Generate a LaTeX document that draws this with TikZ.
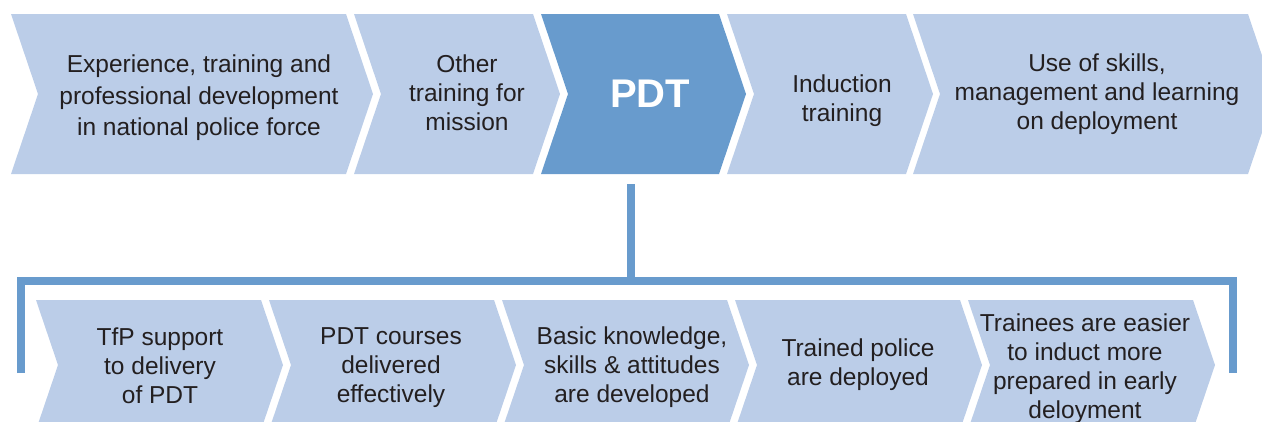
\documentclass[tikz,border=0pt]{standalone}
\usepackage{fontspec}
\setmainfont{Liberation Sans}
\definecolor{lightblue}{RGB}{187,205,232}
\definecolor{darkblue}{RGB}{104,155,205}
\definecolor{txt}{RGB}{35,31,32}
\begin{document}
\begin{tikzpicture}[x=1pt,y=-1pt,
  lbl/.style={text=txt, font=\fontsize{24.5}{29}\selectfont, align=center, inner sep=0pt},
  widelbl/.style={lbl, font=\fontsize{24.5}{31.6}\selectfont},
  pdtlbl/.style={text=white, font=\fontsize{40}{48}\selectfont\bfseries, inner sep=0pt},
  chevlight/.style={fill=lightblue},
  chevdark/.style={fill=darkblue},
  bracket/.style={draw=darkblue, line width=8pt, line join=miter}]
\useasboundingbox (0,0) rectangle (1262,421);
\clip (0,0) rectangle (1262,421);
% top row chevrons: top 14, mid 94, bottom 174, depth 27
\path[chevlight] (11,14) -- (346,14) -- (373,94) -- (346,174) -- (11,174) -- (38,94) -- cycle;
\path[chevlight] (354,14) -- (533,14) -- (560,94) -- (533,174) -- (354,174) -- (381,94) -- cycle;
\path[chevdark] (541,14) -- (719,14) -- (746,94) -- (719,174) -- (541,174) -- (568,94) -- cycle;
\path[chevlight] (727,14) -- (906,14) -- (933,94) -- (906,174) -- (727,174) -- (754,94) -- cycle;
\path[chevlight] (913,14) -- (1248,14) -- (1275,94) -- (1248,174) -- (913,174) -- (940,94) -- cycle;
% bottom row chevrons: top 300, mid 365, bottom 430, depth 22
\path[chevlight] (36,300) -- (261,300) -- (283,365) -- (261,430) -- (36,430) -- (58,365) -- cycle;
\path[chevlight] (269,300) -- (494,300) -- (516,365) -- (494,430) -- (269,430) -- (291,365) -- cycle;
\path[chevlight] (502,300) -- (727,300) -- (749,365) -- (727,430) -- (502,430) -- (524,365) -- cycle;
\path[chevlight] (735,300) -- (960,300) -- (982,365) -- (960,430) -- (735,430) -- (757,365) -- cycle;
\path[chevlight] (968,300) -- (1193,300) -- (1215,365) -- (1193,430) -- (968,430) -- (990,365) -- cycle;
% top labels
\node[widelbl] (t1) at (199,98) {Experience, training and\\professional development\\in national police force};
\node[lbl] (t2) at (467,93) {Other\\training for\\mission};
\node[pdtlbl] (pdt) at (650,94) {PDT};
\node[lbl] (t4) at (842,100.5) {Induction\\training};
\node[lbl] (t5) at (1097,94) {Use of skills,\\management and learning\\on deployment};
% bottom labels
\node[lbl] (b1) at (160,365.5) {TfP support\\to delivery\\of PDT};
\node[lbl] (b2) at (391,367.5) {PDT courses\\delivered\\effectively};
\node[lbl] (b3) at (632,367.5) {Basic knowledge,\\skills \& attitudes\\are developed};
\node[lbl] (b4) at (858,365) {Trained police\\are deployed};
\node[lbl] (b5) at (1085,368.5) {Trainees are easier\\to induct more\\prepared in early\\deloyment};
% bracket connector
\coordinate (pdtfoot) at (631,184);
\coordinate (junc) at (631,281);
\coordinate (lb) at (21,373);
\coordinate (rb) at (1233,373);
\draw[bracket] (pdtfoot) -- (junc);
\draw[bracket] (lb) |- (junc) -| (rb);
\end{tikzpicture}
\end{document}
